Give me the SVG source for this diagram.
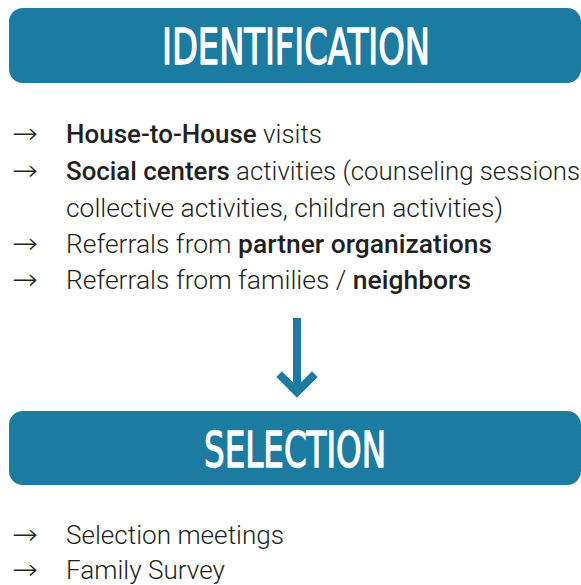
<svg xmlns="http://www.w3.org/2000/svg" width="581" height="585" viewBox="0 0 581 585">
  <style>
    .box { fill: #1b7ba0; }
    .title { font-family: "DejaVu Sans Condensed", Roboto, "Liberation Sans", sans-serif; font-size: 50px; font-weight: 400; fill: #ffffff; stroke: #ffffff; stroke-width: 1.3; text-anchor: middle; }
    .item { font-family: Roboto, "Liberation Sans", sans-serif; font-size: 25px; font-weight: 300; fill: #231f20; }
    .item .b { font-weight: 500; }
    .bullet { font-family: "Noto Sans", "DejaVu Sans", sans-serif; font-size: 28px; font-weight: 300; fill: #231f20; }
    .flow { stroke: #1b7ba0; stroke-width: 8; fill: none; }
  </style>

  <!-- Identification stage -->
  <g id="identification">
    <rect class="box" x="9" y="8" width="572" height="75" rx="14"/>
    <text class="title" x="296" y="64" textLength="268" lengthAdjust="spacingAndGlyphs">IDENTIFICATION</text>
  </g>

  <g id="identification-list">
    <text class="bullet" x="12" y="143" textLength="26" lengthAdjust="spacingAndGlyphs">→</text>
    <text class="item" x="66" y="143" textLength="256" lengthAdjust="spacingAndGlyphs"><tspan class="b">House-to-House</tspan> visits</text>
    <text class="bullet" x="12" y="180" textLength="26" lengthAdjust="spacingAndGlyphs">→</text>
    <text class="item" x="66" y="180" textLength="514" lengthAdjust="spacingAndGlyphs"><tspan class="b">Social centers</tspan> activities (counseling sessions</text>
    <text class="item" x="66" y="217" textLength="437" lengthAdjust="spacingAndGlyphs">collective activities, children activities)</text>
    <text class="bullet" x="12" y="253" textLength="26" lengthAdjust="spacingAndGlyphs">→</text>
    <text class="item" x="66" y="253" textLength="426" lengthAdjust="spacingAndGlyphs">Referrals from <tspan class="b">partner organizations</tspan></text>
    <text class="bullet" x="12" y="289" textLength="26" lengthAdjust="spacingAndGlyphs">→</text>
    <text class="item" x="66" y="289" textLength="405" lengthAdjust="spacingAndGlyphs">Referrals from families / <tspan class="b">neighbors</tspan></text>
  </g>

  <!-- Connector between stages -->
  <g id="connectors">
    <line class="flow" x1="297" y1="318" x2="297" y2="392"/>
    <polyline class="flow" points="282,377 297,392 312,377" stroke-linecap="square"/>
  </g>

  <!-- Selection stage -->
  <g id="selection">
    <rect class="box" x="9" y="411" width="572" height="74" rx="14"/>
    <text class="title" x="295" y="467" textLength="182" lengthAdjust="spacingAndGlyphs">SELECTION</text>
  </g>

  <g id="selection-list">
    <text class="bullet" x="12" y="544" textLength="26" lengthAdjust="spacingAndGlyphs">→</text>
    <text class="item" x="66" y="544" textLength="218" lengthAdjust="spacingAndGlyphs">Selection meetings</text>
    <text class="bullet" x="12" y="579" textLength="26" lengthAdjust="spacingAndGlyphs">→</text>
    <text class="item" x="66" y="579" textLength="159" lengthAdjust="spacingAndGlyphs">Family Survey</text>
  </g>
</svg>
